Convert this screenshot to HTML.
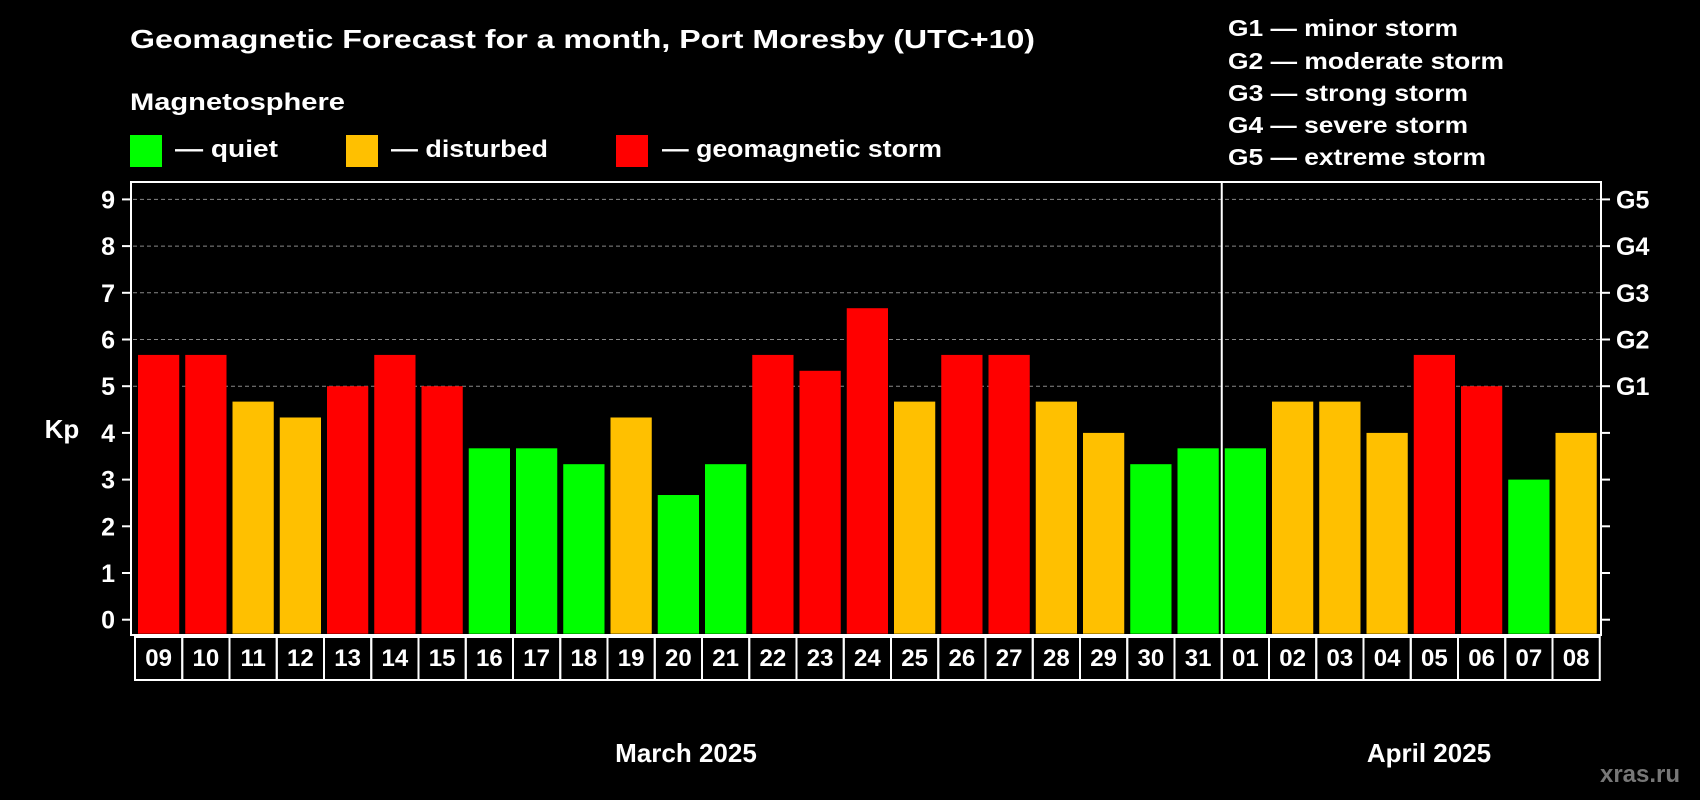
<!DOCTYPE html>
<html><head><meta charset="utf-8"><style>
html,body{margin:0;padding:0;background:#000;}
svg{display:block;font-family:"Liberation Sans",Arial,sans-serif;font-weight:bold;}
</style></head><body>
<svg id="chart" width="1700" height="800" viewBox="0 0 1700 800" xmlns="http://www.w3.org/2000/svg">
<rect width="1700" height="800" fill="#000"/>
<text x="130" y="48" fill="#fff" font-size="26" textLength="905" lengthAdjust="spacingAndGlyphs">Geomagnetic Forecast for a month, Port Moresby (UTC+10)</text>
<text x="130" y="110" fill="#fff" font-size="24" textLength="215" lengthAdjust="spacingAndGlyphs">Magnetosphere</text>
<g><rect x="130" y="135" width="32" height="32" fill="#00ff00"/><text x="175" y="157" fill="#fff" font-size="24" textLength="103" lengthAdjust="spacingAndGlyphs">— quiet</text></g>
<g><rect x="346" y="135" width="32" height="32" fill="#ffc000"/><text x="391" y="157" fill="#fff" font-size="24" textLength="157" lengthAdjust="spacingAndGlyphs">— disturbed</text></g>
<g><rect x="616" y="135" width="32" height="32" fill="#ff0000"/><text x="662" y="157" fill="#fff" font-size="24" textLength="280" lengthAdjust="spacingAndGlyphs">— geomagnetic storm</text></g>
<g fill="#fff" font-size="23">
<text x="1228" y="36" textLength="230" lengthAdjust="spacingAndGlyphs">G1 — minor storm</text>
<text x="1228" y="69" textLength="276" lengthAdjust="spacingAndGlyphs">G2 — moderate storm</text>
<text x="1228" y="101" textLength="240" lengthAdjust="spacingAndGlyphs">G3 — strong storm</text>
<text x="1228" y="133" textLength="240" lengthAdjust="spacingAndGlyphs">G4 — severe storm</text>
<text x="1228" y="165" textLength="258" lengthAdjust="spacingAndGlyphs">G5 — extreme storm</text>
</g>
<g id="grid"></g><g id="bars"></g><g id="axes"></g><g id="dates"></g>
<text x="62" y="438" fill="#fff" font-size="26" text-anchor="middle">Kp</text>
<text x="686" y="762" fill="#fff" font-size="26" text-anchor="middle">March 2025</text>
<text x="1429" y="762" fill="#fff" font-size="26" text-anchor="middle">April 2025</text>
<text x="1640" y="782" fill="#777" font-size="24" text-anchor="middle">xras.ru</text>
</svg>
<script>
const days = ["09","10","11","12","13","14","15","16","17","18","19","20","21","22","23","24","25","26","27","28","29","30","31","01","02","03","04","05","06","07","08"];
const kpValues = [5.67,5.67,4.67,4.33,5,5.67,5,3.67,3.67,3.33,4.33,2.67,3.33,5.67,5.33,6.67,4.67,5.67,5.67,4.67,4,3.33,3.67,3.67,4.67,4.67,4,5.67,5,3,4];
const yTicks = [0,1,2,3,4,5,6,7,8,9];
const gLabels = ["","","","","","G1","G2","G3","G4","G5"];
const NS="http://www.w3.org/2000/svg";
const X0=135, SLOT=47.25, Y0=619.7, PER=46.7;
const xs=i=>X0+i*SLOT, ys=v=>Y0-v*PER;
function mk(tag,attrs,parent){const e=document.createElementNS(NS,tag);for(const k in attrs)e.setAttribute(k,attrs[k]);parent.appendChild(e);return e;}
const grid=document.getElementById('grid'),bars=document.getElementById('bars'),axes=document.getElementById('axes'),dates=document.getElementById('dates');
yTicks.forEach((t,i)=>{
  const y=ys(t);
  if(t>=5){const l=mk('line',{x1:133,x2:1600,y1:y,y2:y,stroke:'#888','stroke-width':1,'stroke-dasharray':'4,3'},grid);
  
  }
  const tl=mk('line',{x1:122,x2:131,y1:y,y2:y,stroke:'#fff','stroke-width':2},axes);
  
  
  const tr=mk('line',{x1:1601,x2:1610,y1:y,y2:y,stroke:'#fff','stroke-width':2},axes);
  
  
  const lb=mk('text',{x:115,y:y+9,fill:'#fff','font-size':25,'text-anchor':'end'},axes);lb.textContent=t;
  
  
  if(gLabels[i]){const g=mk('text',{x:1616,y:y+9,fill:'#fff','font-size':25},axes);g.textContent=gLabels[i];
  
  }
});
kpValues.forEach((v,i)=>{
  const c=v>=5?'#ff0000':(v>=4?'#ffc000':'#00ff00');
  const r=mk('rect',{x:xs(i)+3,y:ys(v),width:SLOT-6,height:Y0+14-ys(v),fill:c},bars);
  
  
  const b=mk('rect',{x:xs(i),y:637,width:SLOT,height:43,fill:'none',stroke:'#fff','stroke-width':2},dates);
  
  
  const t=mk('text',{x:xs(i)+SLOT/2,y:666,fill:'#fff','font-size':24,'text-anchor':'middle'},dates);t.textContent=days[i];
  
  
});
const frame=mk('rect',{x:131,y:182,width:1470,height:453,fill:'none',stroke:'#fff','stroke-width':2},axes);


const sep=days.indexOf("01");
const ml=mk('line',{x1:xs(sep),x2:xs(sep),y1:182,y2:680,stroke:'#fff','stroke-width':2},axes);


</script>
</body></html>
